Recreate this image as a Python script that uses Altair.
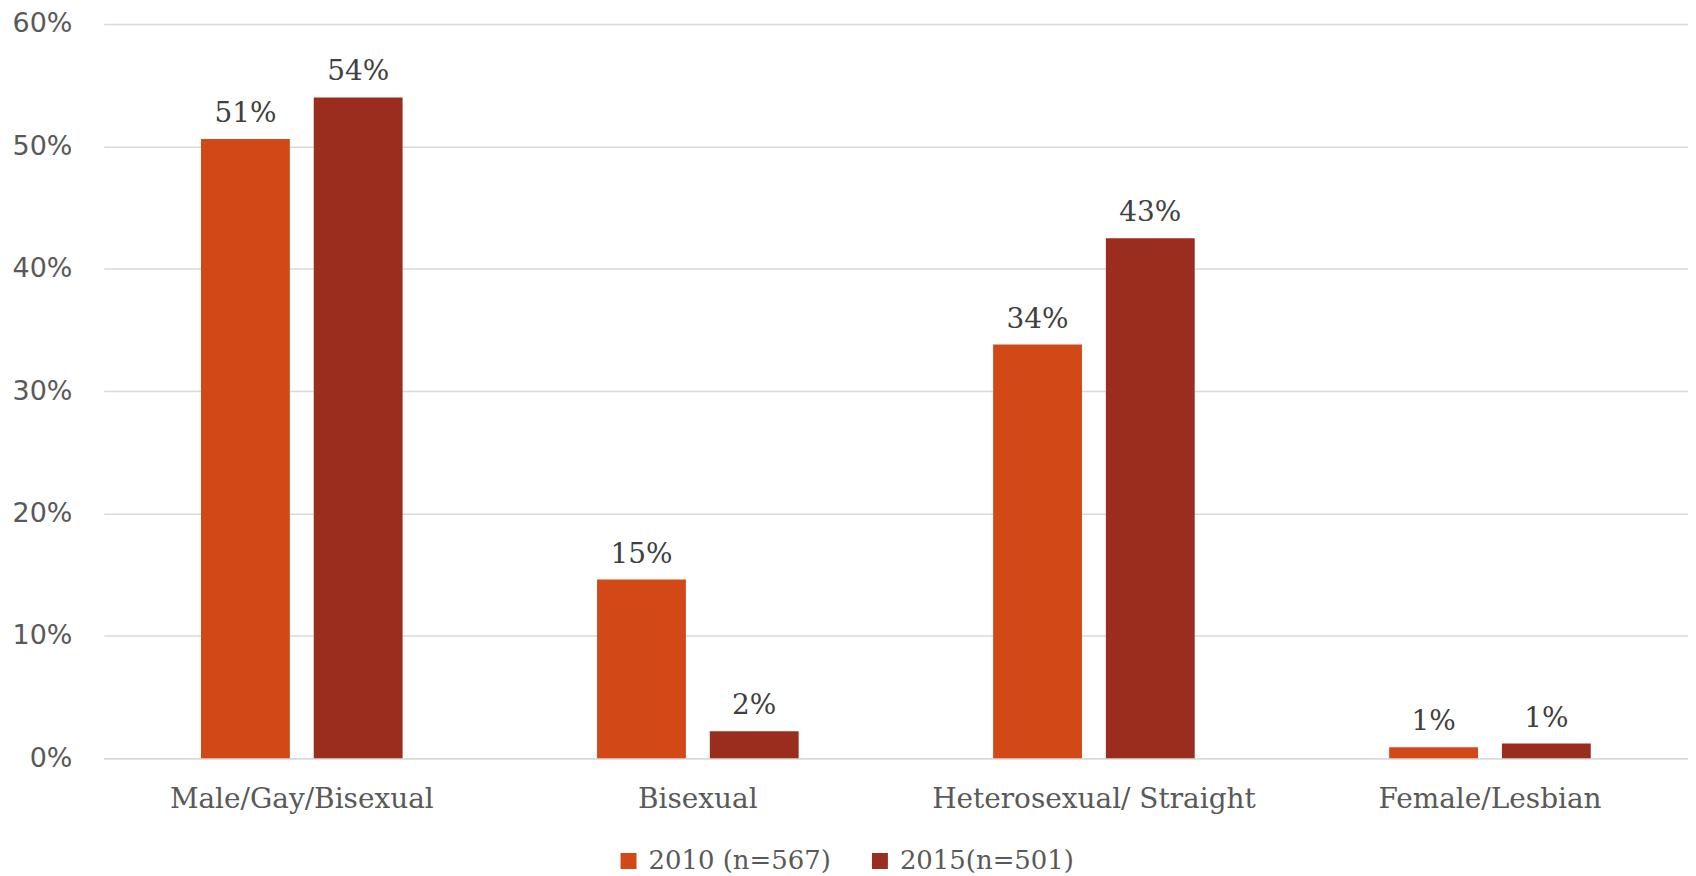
import altair as alt
import pandas as pd

categories = ["Male/Gay/Bisexual", "Bisexual", "Heterosexual/ Straight", "Female/Lesbian"]
series = ["2010 (n=567)", "2015(n=501)"]
values_2010 = [0.506, 0.146, 0.338, 0.009]
values_2015 = [0.540, 0.022, 0.425, 0.012]
labels_2010 = ["51%", "15%", "34%", "1%"]
labels_2015 = ["54%", "2%", "43%", "1%"]
colors = ["#D34817", "#9B2D1F"]

rows = []
for c, v, l in zip(categories, values_2010, labels_2010):
    rows.append({"cat": c, "series": series[0], "value": v, "label": l})
for c, v, l in zip(categories, values_2015, labels_2015):
    rows.append({"cat": c, "series": series[1], "value": v, "label": l})
df = pd.DataFrame(rows)

x = alt.X("cat:N", sort=categories, title=None,
          scale=alt.Scale(paddingInner=0.491, paddingOuter=0.2455),
          axis=alt.Axis(labelAngle=0, labelFont="DejaVu Serif", labelFontSize=28,
                        labelColor="#595959", labelPadding=27, ticks=False, labelLimit=0,
                        grid=False, domainColor="#D9D9D9", domainWidth=1.5))
xoff = alt.XOffset("series:N", sort=series,
                   scale=alt.Scale(paddingInner=0.212, paddingOuter=0))

bars = alt.Chart(df).mark_bar().encode(
    x=x,
    xOffset=xoff,
    y=alt.Y("value:Q", title=None,
            scale=alt.Scale(domain=[0, 0.6]),
            axis=alt.Axis(format=".0%", values=[0, 0.1, 0.2, 0.3, 0.4, 0.5, 0.6],
                          labelFont="DejaVu Sans", labelFontSize=27, labelColor="#595959",
                          labelPadding=32, ticks=False, domain=False,
                          gridColor="#D9D9D9", gridWidth=1.5)),
    color=alt.Color("series:N", sort=series,
                    scale=alt.Scale(domain=series, range=colors),
                    legend=alt.Legend(title=None, orient="none", legendX=513, legendY=826,
                                      direction="horizontal", symbolType="square",
                                      symbolSize=256, symbolStrokeWidth=0,
                                      labelFont="DejaVu Serif", labelFontSize=26,
                                      labelColor="#595959", labelOffset=7, labelLimit=0,
                                      columnPadding=36)),
)

text = alt.Chart(df).mark_text(baseline="alphabetic", dy=-17, font="DejaVu Serif",
                               fontSize=28, color="#404040").encode(
    x=alt.X("cat:N", sort=categories),
    xOffset=xoff,
    y=alt.Y("value:Q"),
    text="label:N",
)

chart = (bars + text).properties(
    width=1588, height=736,
    background="white",
    autosize=alt.AutoSizeParams(type="none"),
    padding={"left": 96, "top": 15, "right": 0, "bottom": 117},
).configure_view(stroke="transparent", strokeWidth=0).configure_axisY(domain=False)

chart.save("out.html", embed_options={"renderer": "svg", "actions": False})
